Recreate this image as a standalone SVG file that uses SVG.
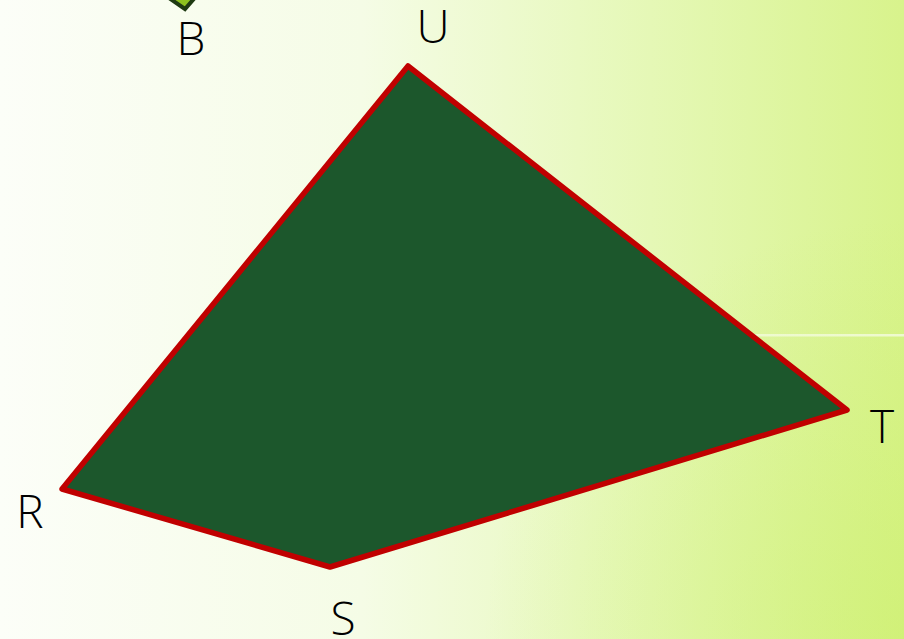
<svg xmlns="http://www.w3.org/2000/svg" width="904" height="639" viewBox="0 0 904 639">
  <defs>
    <linearGradient id="bgH" x1="0" y1="0" x2="1" y2="0">
      <stop offset="0" stop-color="#FCFEF8"/>
      <stop offset="0.4" stop-color="#F5FCE6"/>
      <stop offset="0.72" stop-color="#E5F8B6"/>
      <stop offset="1" stop-color="#D8F38C"/>
    </linearGradient>
    <radialGradient id="bgR" cx="904" cy="639" r="420" gradientUnits="userSpaceOnUse">
      <stop offset="0" stop-color="#C8EE60" stop-opacity="0.45"/>
      <stop offset="1" stop-color="#C8EE60" stop-opacity="0"/>
    </radialGradient>
    <linearGradient id="streak" x1="0" y1="0" x2="1" y2="0">
      <stop offset="0" stop-color="#FFFFFF" stop-opacity="0"/>
      <stop offset="0.5" stop-color="#FFFFFF" stop-opacity="0.5"/>
      <stop offset="1" stop-color="#FFFFFF" stop-opacity="0.6"/>
    </linearGradient>
    <style>
      .lbl { font-family: "Open Sans", "Noto Sans", sans-serif; font-weight: 300; font-size: 46px; fill: #000000; text-anchor: middle; }
    </style>
  </defs>
  <rect x="0" y="0" width="904" height="639" fill="url(#bgH)"/>
  <rect x="0" y="0" width="904" height="639" fill="url(#bgR)"/>
  <rect x="600" y="334" width="304" height="2.5" fill="url(#streak)"/>

  <g id="shapeB">
    <polygon points="140,-22 185,9 214,-24" fill="#8DC21F" stroke="#1E3A12" stroke-width="4" stroke-linejoin="miter"/>
  </g>

  <g id="quad">
    <polygon points="408,66 847,410 330,567 62,489" fill="#1C572C" stroke="#C00000" stroke-width="5.5" stroke-linejoin="round"/>
  </g>

  <g id="labels">
    <text id="labelB" class="lbl" x="191" y="55">B</text>
    <text id="labelU" class="lbl" x="433" y="43">U</text>
    <text id="labelT" class="lbl" x="882" y="443">T</text>
    <text id="labelR" class="lbl" x="30" y="528">R</text>
    <text id="labelS" class="lbl" x="343" y="635">S</text>
  </g>
</svg>
